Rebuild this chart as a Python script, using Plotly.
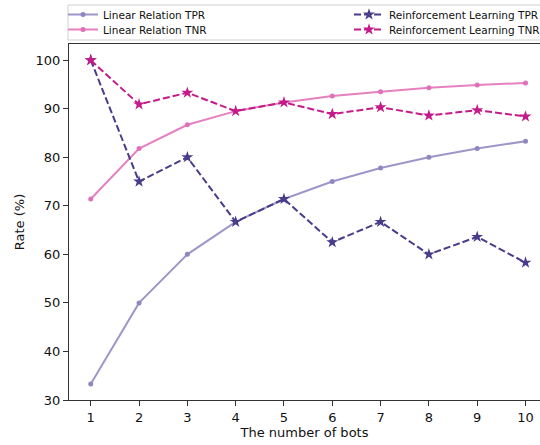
import plotly.graph_objects as go

bots = [1, 2, 3, 4, 5, 6, 7, 8, 9, 10]
lin_tpr = [33.3, 50.0, 60.0, 66.7, 71.4, 75.0, 77.8, 80.0, 81.8, 83.3]
lin_tnr = [71.4, 81.8, 86.7, 89.5, 91.3, 92.6, 93.5, 94.3, 94.9, 95.3]
rl_tpr = [100.0, 75.0, 80.0, 66.7, 71.4, 62.5, 66.7, 60.0, 63.6, 58.3]
rl_tnr = [100.0, 90.9, 93.3, 89.5, 91.3, 88.9, 90.3, 88.6, 89.7, 88.4]
yticks = [30, 40, 50, 60, 70, 80, 90, 100]

FONT = "DejaVu Sans"
fig = go.Figure()
fig.add_trace(go.Scatter(x=bots, y=lin_tpr, mode="lines+markers", name="Linear Relation TPR",
                         line=dict(color="#9d97c8", width=2), marker=dict(size=5, color="#8f88c0"),
                         legend="legend"))
fig.add_trace(go.Scatter(x=bots, y=lin_tnr, mode="lines+markers", name="Linear Relation TNR",
                         line=dict(color="#e680c0", width=2), marker=dict(size=5, color="#e070b8"),
                         legend="legend3"))
fig.add_trace(go.Scatter(x=bots, y=rl_tpr, mode="lines+markers", name="Reinforcement Learning TPR",
                         line=dict(color="#483d8b", width=2, dash="7px,3px"),
                         marker=dict(symbol="star", size=9, color="#483d8b"),
                         legend="legend2"))
fig.add_trace(go.Scatter(x=bots, y=rl_tnr, mode="lines+markers", name="Reinforcement Learning TNR",
                         line=dict(color="#c51b8a", width=2, dash="7px,3px"),
                         marker=dict(symbol="star", size=9, color="#c51b8a"),
                         legend="legend4"))

W, H = 540, 445
ml, mr, mt, mb = 69, 0, 44, 45
pw = W - ml - mr
ph = H - mt - mb

def px2x(x):
    return (x - ml) / pw

def px2y(y):
    return (H - mb - y) / ph

def leg(xpx, ypx):
    return dict(x=px2x(xpx), y=px2y(ypx), yanchor="top", xanchor="left", visible=True,
                bgcolor="rgba(0,0,0,0)", font=dict(family=FONT, size=10.5, color="#111"),
                tracegroupgap=0, itemwidth=30)

fig.update_layout(
    width=W, height=H,
    showlegend=True,
    margin=dict(l=ml, r=mr, t=mt, b=mb, autoexpand=False),
    paper_bgcolor="white", plot_bgcolor="white",
    font=dict(family=FONT, size=13, color="#111"),
    legend=leg(63, 0),
    legend3=leg(63, 15),
    legend2=leg(349, 0),
    legend4=leg(349, 15),
    xaxis=dict(range=[0.55, 10.3], tickmode="array", tickvals=bots, showgrid=False, zeroline=False,
               showline=True, linecolor="#333", linewidth=1, mirror=True,
               ticks="outside", ticklen=5, tickcolor="#333", automargin=False,
               title=dict(text="The number of bots", font=dict(size=13), standoff=4)),
    yaxis=dict(range=[30, 103.33], tickmode="array", tickvals=yticks, showgrid=False, zeroline=False,
               showline=True, linecolor="#333", linewidth=1, automargin=False,
               ticks="outside", ticklen=5, tickcolor="#333",
               title=dict(text="Rate (%)", font=dict(size=13), standoff=8)),
    shapes=[dict(type="rect", xref="paper", yref="paper",
                 x0=px2x(68), x1=px2x(560),
                 y0=px2y(40), y1=px2y(5),
                 line=dict(color="#d0d0d0", width=1), fillcolor="rgba(0,0,0,0)", layer="below")],
)
fig.write_html("out.html")
